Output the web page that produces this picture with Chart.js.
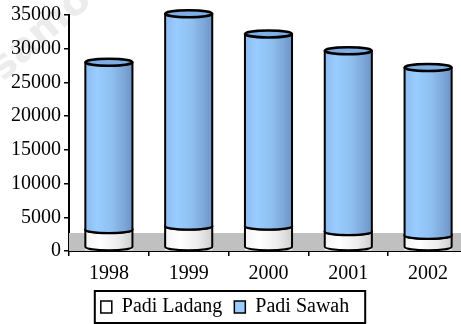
<!DOCTYPE html>
<html>
<head>
<meta charset="utf-8">
<title>Produksi Padi 1998-2002</title>
<script src="https://cdn.jsdelivr.net/npm/chart.js@4.4.1/dist/chart.umd.min.js"></script>
<style>
  html, body { margin: 0; padding: 0; background: #fff; overflow: hidden; }
  #wrap { position: relative; width: 470px; height: 324px; }
</style>
</head>
<body>
<div id="wrap"><canvas id="padiChart"></canvas></div>
<script>
const years = ['1998', '1999', '2000', '2001', '2002'];
const padiLadang = [3200, 3700, 3700, 2900, 2350];
const padiSawah = [24800, 31500, 28500, 26800, 24850];
const yMax = 35000;
const yStep = 5000;

const FLOOR_PX = 18;   // depth of the grey 3d floor
const CAP_RY = 3.5;    // flattening of the cylinder ends

const serif = "'Liberation Serif', 'Times New Roman', serif";
Chart.defaults.font.family = serif;
Chart.defaults.font.size = 20;
Chart.defaults.color = '#000';

function hGradient(ctx, l, r, stops){
  const g = ctx.createLinearGradient(l, 0, r, 0);
  stops.forEach(s => g.addColorStop(s[0], s[1]));
  return g;
}

const BLUE = [[0, '#8cbcf0'], [0.25, '#99ccff'], [0.55, '#90c0f2'], [0.8, '#7ea9da'], [1, '#6c95c6']];
const WHITE = [[0, '#f4f4f4'], [0.3, '#ffffff'], [0.7, '#ececec'], [1, '#cfcfcf']];

// body of one cylinder piece, with a rounded lower edge
function body(ctx, l, r, top, bottom, fill){
  const cx = (l + r) / 2, rx = (r - l) / 2;
  ctx.beginPath();
  ctx.moveTo(l, top);
  ctx.lineTo(l, bottom);
  ctx.ellipse(cx, bottom, rx, CAP_RY, 0, Math.PI, 0, true);
  ctx.lineTo(r, top);
  ctx.closePath();
  ctx.fillStyle = fill;
  ctx.fill();
  ctx.beginPath();
  ctx.moveTo(l, top);
  ctx.lineTo(l, bottom);
  ctx.ellipse(cx, bottom, rx, CAP_RY, 0, Math.PI, 0, true);
  ctx.lineTo(r, top);
  ctx.lineWidth = 2;
  ctx.strokeStyle = '#000';
  ctx.stroke();
}

function cap(ctx, l, r, y, fill){
  ctx.beginPath();
  ctx.ellipse((l + r) / 2, y, (r - l) / 2, CAP_RY, 0, 0, Math.PI * 2);
  ctx.fillStyle = fill;
  ctx.fill();
  ctx.lineWidth = 2.5;
  ctx.strokeStyle = '#000';
  ctx.stroke();
}

const floorPlugin = {
  id: 'floor',
  beforeDatasetsDraw(chart){
    const { ctx, chartArea } = chart;
    const y0 = chart.scales.y.getPixelForValue(0);
    ctx.save();
    ctx.fillStyle = '#c0c0c0';
    ctx.fillRect(chartArea.left, y0 - FLOOR_PX, chartArea.right - chartArea.left, FLOOR_PX);
    ctx.restore();
  }
};

const cylinderPlugin = {
  id: 'cylinders',
  afterDatasetsDraw(chart){
    const ctx = chart.ctx;
    const low = chart.getDatasetMeta(0).data;
    const high = chart.getDatasetMeta(1).data;
    ctx.save();
    low.forEach((bar, i) => {
      const w = bar.width;
      const l = bar.x - w / 2, r = bar.x + w / 2;
      const white = hGradient(ctx, l, r, WHITE);
      const blue = hGradient(ctx, l, r, BLUE);
      body(ctx, l, r, bar.y, bar.base - CAP_RY, white);
      cap(ctx, l, r, bar.y, '#c8c8c8');
      const up = high[i];
      body(ctx, l, r, up.y, up.base, blue);
      cap(ctx, l, r, up.y, '#7eaee6');
    });
    ctx.restore();
  }
};

const watermarkPlugin = {
  id: 'watermark',
  beforeDraw(chart){
    const ctx = chart.ctx;
    ctx.save();
    ctx.translate(-4, 74);
    ctx.rotate(-0.72);
    ctx.font = "bold 40px 'DejaVu Sans', sans-serif";
    ctx.fillStyle = '#ececec';
    ctx.fillText('samosir', 0, 0);
    ctx.restore();
  }
};

// nudges the legend row a little left and down, then frames it
const legendBoxPlugin = {
  id: 'legendBox',
  afterLayout(chart){
    const lg = chart.legend;
    lg.left -= 9; lg.right -= 9;
    lg.top += 3; lg.bottom += 3;
  },
  afterDraw(chart){
    const boxes = chart.legend.legendHitBoxes;
    if (!boxes || !boxes.length) return;
    const left = Math.min(...boxes.map(b => b.left)) - 6;
    const right = Math.max(...boxes.map(b => b.left + b.width)) + 16;
    const mid = boxes[0].top + boxes[0].height / 2;
    const ctx = chart.ctx;
    ctx.save();
    ctx.lineWidth = 2;
    ctx.strokeStyle = '#000';
    ctx.strokeRect(left, mid - 16, right - left, 32);
    ctx.restore();
  }
};

new Chart(document.getElementById('padiChart'), {
  type: 'bar',
  data: {
    labels: years,
    datasets: [
      {
        label: 'Padi Ladang',
        data: padiLadang,
        backgroundColor: '#ffffff',
        borderColor: '#000',
        borderWidth: 0
      },
      {
        label: 'Padi Sawah',
        data: padiSawah,
        backgroundColor: '#99ccff',
        borderColor: '#000',
        borderWidth: 0
      }
    ]
  },
  options: {
    responsive: true,
    maintainAspectRatio: false,
    animation: false,
    layout: { padding: { top: 12, right: 2, left: 0, bottom: 0 } },
    datasets: { bar: { barPercentage: 0.59, categoryPercentage: 1, clip: false } },
    plugins: {
      tooltip: { enabled: false },
      legend: {
        position: 'bottom',
        labels: {
          boxWidth: 11,
          boxHeight: 12,
          padding: 12,
          font: { size: 20, family: serif },
          color: '#000',
          generateLabels(chart){
            return chart.data.datasets.map((d, i) => ({
              text: d.label,
              fillStyle: d.backgroundColor,
              strokeStyle: '#000',
              lineWidth: 1.5,
              datasetIndex: i
            }));
          }
        }
      }
    },
    scales: {
      x: {
        stacked: true,
        afterFit(scale){ scale.height = 31; },
        grid: { drawOnChartArea: false, drawTicks: true, tickLength: 5, color: '#000', lineWidth: 1.5 },
        border: { color: '#000', width: 2 },
        ticks: { padding: 6, font: { size: 20, family: serif }, color: '#000' }
      },
      y: {
        stacked: true,
        min: 0,
        max: yMax,
        afterFit(scale){ scale.width = 69; },
        grid: { drawOnChartArea: false, drawTicks: true, tickLength: 5, color: '#000', lineWidth: 1.5 },
        border: { color: '#000', width: 2 },
        ticks: {
          stepSize: yStep,
          padding: 3,
          font: { size: 20, family: serif },
          color: '#000',
          callback: v => String(v)
        }
      }
    }
  },
  plugins: [watermarkPlugin, floorPlugin, cylinderPlugin, legendBoxPlugin]
});
</script>
</body>
</html>
